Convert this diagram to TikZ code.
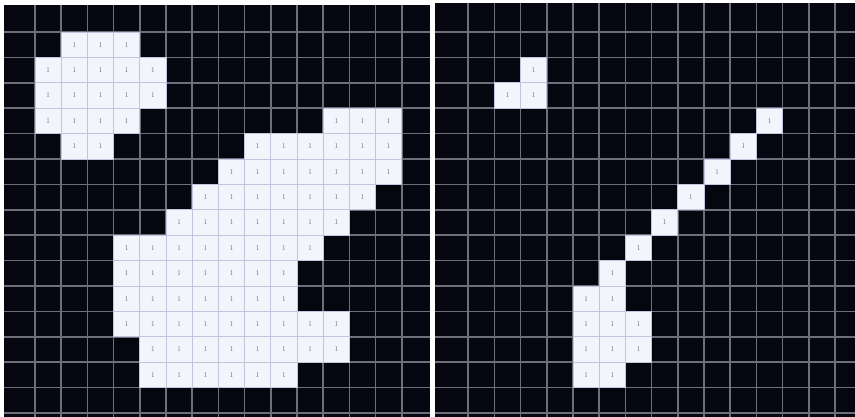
\documentclass[tikz,border=0pt]{standalone}
\usepackage{xcolor}
\definecolor{pixblack}{RGB}{6,6,16}
\definecolor{gridgray}{RGB}{110,110,122}
\definecolor{pixwhite}{RGB}{244,244,252}
\definecolor{cellline}{RGB}{196,196,222}
\definecolor{digitgray}{RGB}{125,125,135}
\tikzset{
  panelbg/.style={fill=pixblack, draw=none},
  gridline/.style={draw=gridgray, line width=1.6pt},
  whitecell/.style={fill=pixwhite, draw=cellline, line width=0.9pt},
  digit/.style={text=digitgray, font=\fontsize{7.5}{7.5}\selectfont, inner sep=0pt}
}
% draw a run of white cells: origin x, row, first col, last col
\newcommand\pixrun[4]{%
  \foreach \cc in {#3,...,#4}{%
    \path[whitecell] ({#1+26.2*\cc},{6.6+25.4*#2}) rectangle ({#1+26.2*(\cc+1)},{6.6+25.4*(#2+1)});
    \node[digit] at ({#1+26.2*(\cc+0.5)},{6.6+25.4*(#2+0.5)}) {1};
  }%
}
\begin{document}
\begin{tikzpicture}[x=1pt,y=-1pt]
\useasboundingbox (0,0) rectangle (855,417);
\fill[white] (0,0) rectangle (855,417);
% panels
\path[panelbg] (4,5) rectangle (430,417);
\path[panelbg] (435,3) rectangle (855,417);
% left grid
\foreach \k in {1,...,15} \draw[gridline] ({8.8+26.2*\k},5) -- ({8.8+26.2*\k},417);
\foreach \k in {1,...,16} \draw[gridline] (4,{6.6+25.4*\k}) -- (430,{6.6+25.4*\k});
% right grid
\foreach \k in {1,...,15} \draw[gridline] ({442+26.2*\k},3) -- ({442+26.2*\k},417);
\foreach \k in {1,...,16} \draw[gridline] (435,{6.6+25.4*\k}) -- (855,{6.6+25.4*\k});
% left panel cells
\def\ox{8.8}
\pixrun{\ox}{1}{2}{4}
\pixrun{\ox}{2}{1}{5}
\pixrun{\ox}{3}{1}{5}
\pixrun{\ox}{4}{1}{4}
\pixrun{\ox}{4}{12}{14}
\pixrun{\ox}{5}{2}{3}
\pixrun{\ox}{5}{9}{14}
\pixrun{\ox}{6}{8}{14}
\pixrun{\ox}{7}{7}{13}
\pixrun{\ox}{8}{6}{12}
\pixrun{\ox}{9}{4}{11}
\pixrun{\ox}{10}{4}{10}
\pixrun{\ox}{11}{4}{10}
\pixrun{\ox}{12}{4}{12}
\pixrun{\ox}{13}{5}{12}
\pixrun{\ox}{14}{5}{10}
% right panel cells
\def\rx{442}
\pixrun{\rx}{2}{3}{3}
\pixrun{\rx}{3}{2}{3}
\pixrun{\rx}{4}{12}{12}
\pixrun{\rx}{5}{11}{11}
\pixrun{\rx}{6}{10}{10}
\pixrun{\rx}{7}{9}{9}
\pixrun{\rx}{8}{8}{8}
\pixrun{\rx}{9}{7}{7}
\pixrun{\rx}{10}{6}{6}
\pixrun{\rx}{11}{5}{6}
\pixrun{\rx}{12}{5}{7}
\pixrun{\rx}{13}{5}{7}
\pixrun{\rx}{14}{5}{6}
\end{tikzpicture}
\end{document}
